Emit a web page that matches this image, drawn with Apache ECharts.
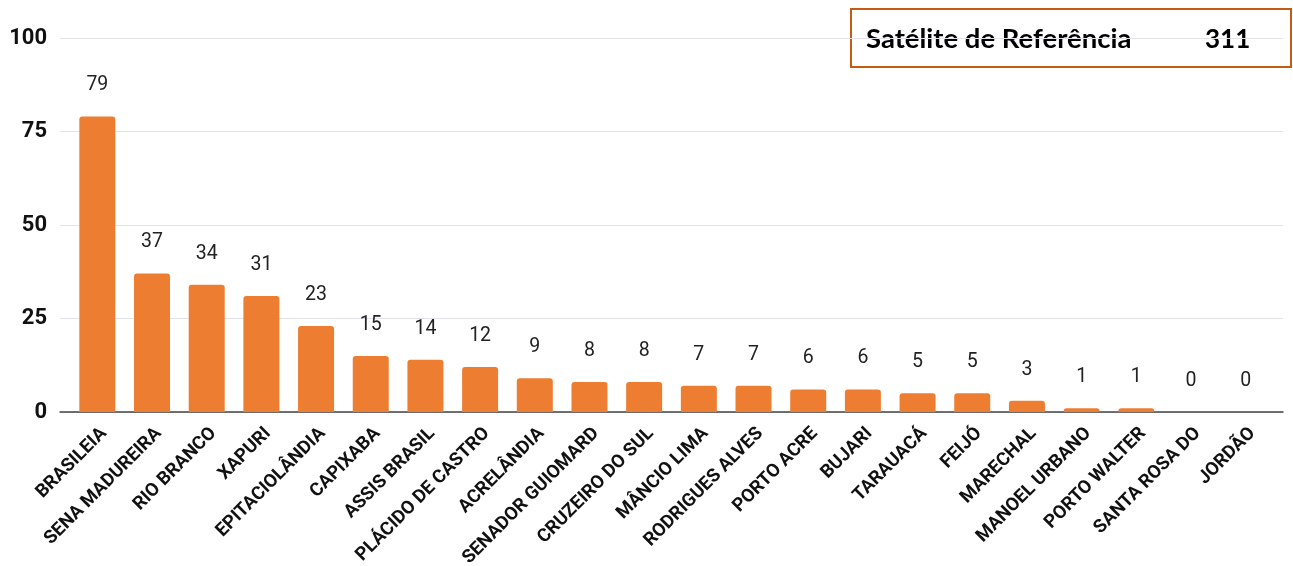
<!DOCTYPE html>
<html><head><meta charset="utf-8">
<script src="https://cdn.jsdelivr.net/npm/echarts@6/dist/echarts.min.js"></script>
<style>html,body{margin:0;padding:0;background:#fff}#c{width:1293px;height:566px}</style>
</head><body><div id="c"></div>
<script>
const categories = ["BRASILEIA","SENA MADUREIRA","RIO BRANCO","XAPURI","EPITACIOLÂNDIA","CAPIXABA","ASSIS BRASIL","PLÁCIDO DE CASTRO","ACRELÂNDIA","SENADOR GUIOMARD","CRUZEIRO DO SUL","MÂNCIO LIMA","RODRIGUES ALVES","PORTO ACRE","BUJARI","TARAUACÁ","FEIJÓ","MARECHAL","MANOEL URBANO","PORTO WALTER","SANTA ROSA DO","JORDÃO"];
const values = [79,37,34,31,23,15,14,12,9,8,8,7,7,6,6,5,5,3,1,1,0,0];
const yTicks = [0,25,50,75,100];
const legendLabel = "Satélite de Referência";
const legendTotal = 311;

const chart = echarts.init(document.getElementById('c'), null, {renderer:'canvas'});
chart.setOption({
  animation:false,
  grid:[
    {left:60,right:10,top:38,bottom:154,containLabel:false,outerBoundsMode:'none'},
    {left:70,right:20,top:38,bottom:154,containLabel:false,outerBoundsMode:'none'}
  ],
  xAxis:[
    {gridIndex:0,type:'category',data:[''],axisLine:{show:true,lineStyle:{color:'#444',width:1.5}},axisTick:{show:false},axisLabel:{show:false}},
    {gridIndex:1,type:'category',data:categories,axisLine:{show:false},axisTick:{show:false},
     axisLabel:{interval:0,rotate:45,margin:12,verticalAlign:'top',fontFamily:'Roboto',fontWeight:'bold',fontSize:18.5,color:'#111'}}
  ],
  yAxis:[
    {gridIndex:0,type:'value',min:yTicks[0],max:yTicks[yTicks.length-1],interval:25,
     axisLine:{show:false},axisTick:{show:false},
     axisLabel:{fontFamily:'Roboto',fontWeight:'bold',fontSize:22,color:'#111',margin:13},
     splitLine:{lineStyle:{color:'#e2e2e8',width:1.2}}},
    {gridIndex:1,type:'value',min:0,max:100,show:false,splitLine:{show:false}}
  ],
  series:[{
    type:'bar',xAxisIndex:1,yAxisIndex:1,data:values,barWidth:36,
    itemStyle:{color:'#ED7D31',borderRadius:[3,3,0,0]},
    label:{show:true,position:'top',distance:21,fontFamily:'Roboto',fontSize:19.5,color:'#222'}
  }],
  graphic:[
    {type:'rect',left:850,top:8,shape:{width:440,height:58},style:{fill:'transparent',stroke:'#C55A11',lineWidth:2}},
    {type:'text',x:866,y:39.5,style:{text:legendLabel,font:'bold 27.5px Lato',fill:'#000',verticalAlign:'middle'}},
    {type:'text',x:1205,y:39.5,style:{text:String(legendTotal),font:'bold 26px Lato',fill:'#000',verticalAlign:'middle'}}
  ]
});
</script></body></html>
